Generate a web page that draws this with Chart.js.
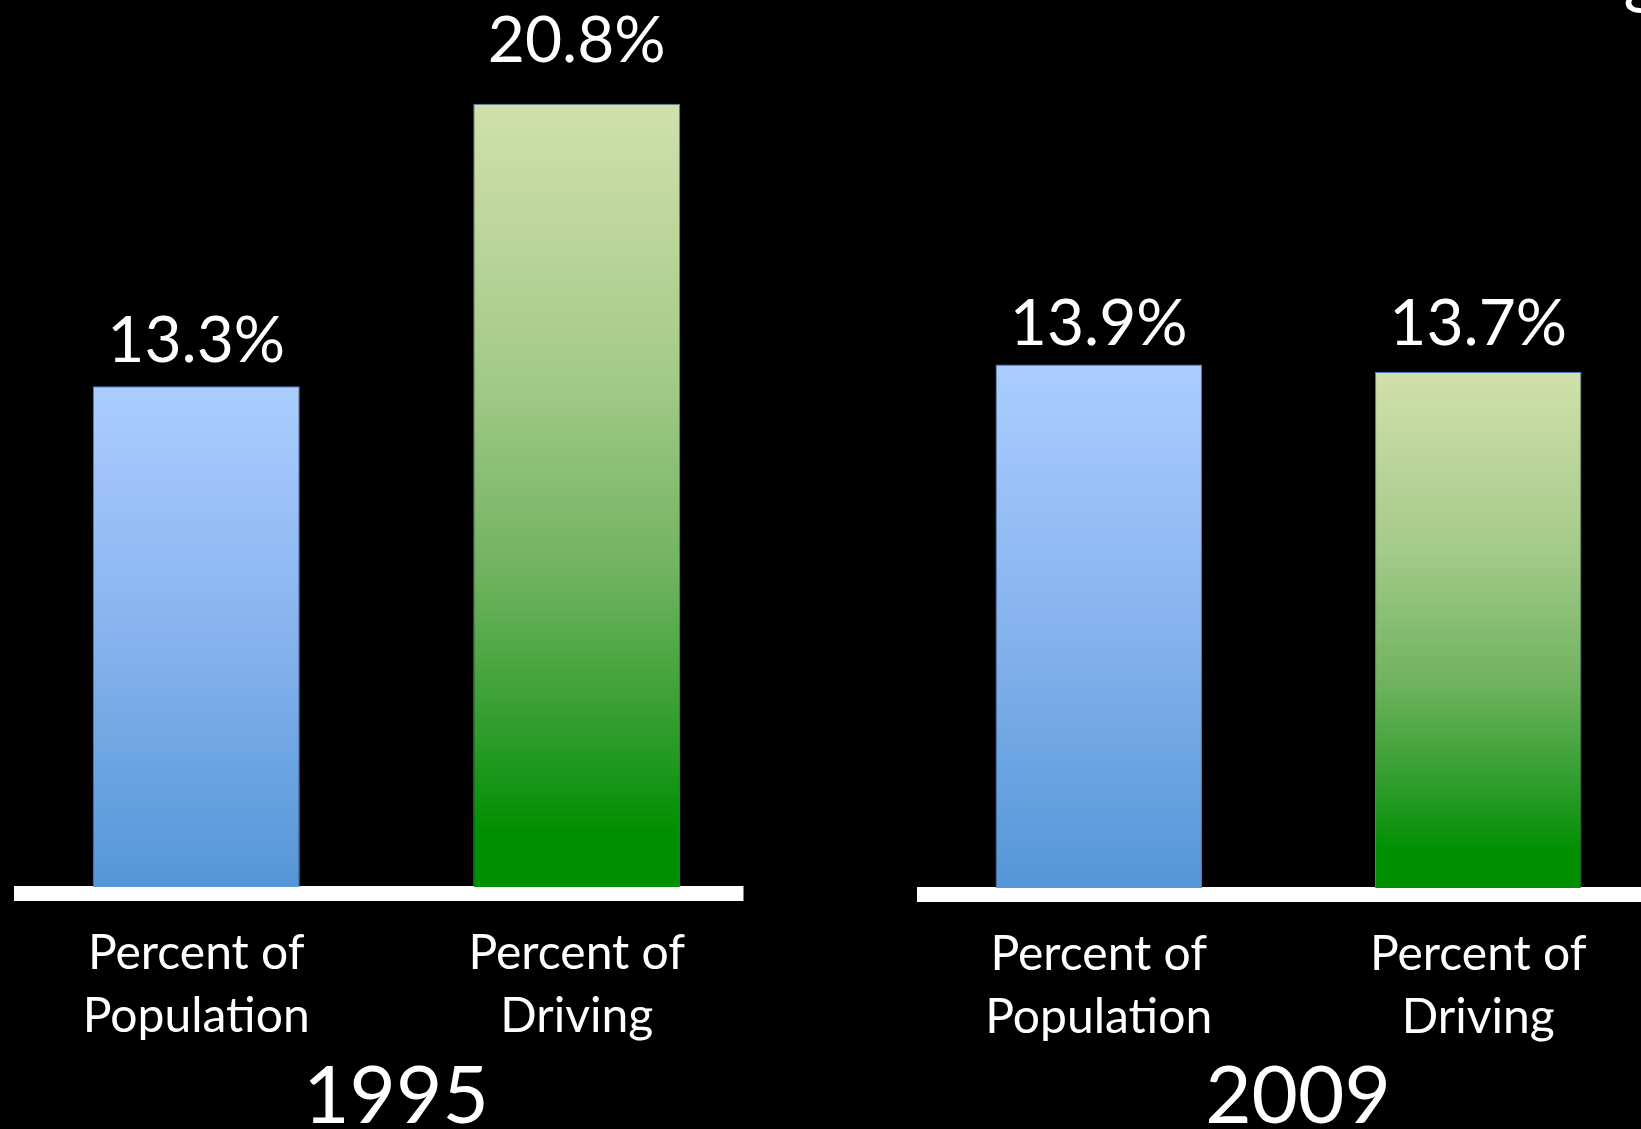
<!DOCTYPE html>
<html>
<head>
<meta charset="utf-8">
<script src="https://cdn.jsdelivr.net/npm/chart.js@4.4.1/dist/chart.umd.min.js"></script>
<style>
  html, body { margin: 0; padding: 0; background: #000; width: 1641px; height: 1129px; overflow: hidden; }
  body { position: relative; }
  canvas { position: absolute; top: 0; }
  #c1995 { left: 6px; }
  #c2009 { left: 909px; }
</style>
</head>
<body>
<canvas id="c1995" width="761" height="1129"></canvas>
<canvas id="c2009" width="759" height="1129"></canvas>
<script>
// Categories, years and values
const categories = [['Percent of', 'Population'], ['Percent of', 'Driving']];
const years = ['1995', '2009'];
const values1995 = [13.3, 20.8];
const values2009 = [13.9, 13.7];
const headline = 'Driving';

const FONT = 'Lato, "Open Sans", sans-serif';
const blueStops = [[0, '#abcdff'], [0.5, '#86b3ee'], [1, '#5496d8']];
const greenStops = [[0, '#d1e0ac'], [0.35, '#a3ca88'], [0.6, '#70b35f'], [0.8, '#2f9d2c'], [0.93, '#008f00'], [1, '#008f00']];

// Vertical gradient spanning each bar from its top to the zero line
function barFill(ctx, stops) {
  const chart = ctx.chart;
  if (!chart.chartArea || !chart.scales.y) return stops[stops.length - 1][1];
  const y = chart.scales.y;
  const top = y.getPixelForValue(ctx.raw);
  const bottom = y.getPixelForValue(0);
  const g = chart.ctx.createLinearGradient(0, top, 0, bottom);
  stops.forEach(([o, c]) => g.addColorStop(o, c));
  return g;
}

// Thick white baseline under the bars
const baselinePlugin = {
  id: 'baseline',
  beforeDatasetsDraw(chart, args, opts) {
    const a = chart.chartArea;
    const c = chart.ctx;
    const x0 = a.left + opts.insetLeft;
    const x1 = opts.toEdge ? chart.width : a.right - opts.insetRight;
    c.save();
    c.fillStyle = '#ffffff';
    c.fillRect(x0, a.bottom - 1, x1 - x0, 15);
    c.restore();
  }
};

// Percentage text above each bar
const valueLabelPlugin = {
  id: 'valueLabels',
  afterDatasetsDraw(chart, args, opts) {
    const c = chart.ctx;
    const meta = chart.getDatasetMeta(0);
    const data = chart.data.datasets[0].data;
    c.save();
    c.fillStyle = '#ffffff';
    c.font = '64px ' + FONT;
    c.textAlign = 'center';
    c.textBaseline = 'alphabetic';
    meta.data.forEach((bar, i) => {
      c.fillText(data[i].toFixed(1) + '%', bar.x, bar.y - opts.lift[i]);
    });
    c.restore();
  }
};

// Year caption under each group, plus the page heading on the right
const captionPlugin = {
  id: 'caption',
  afterDraw(chart, args, opts) {
    const a = chart.chartArea;
    const c = chart.ctx;
    c.save();
    c.fillStyle = '#ffffff';
    c.font = '80px ' + FONT;
    c.textAlign = 'center';
    c.textBaseline = 'alphabetic';
    c.fillText(opts.year, (a.left + a.right) / 2 + 9.5, 1123);
    if (opts.heading) {
      c.font = '72px ' + FONT;
      c.textAlign = 'right';
      c.fillText(opts.heading, 752, 0);
    }
    c.restore();
  }
};

function makeChart(id, values, year, bottomSpace, padTop, baselineOpts, lift, heading) {
  return new Chart(document.getElementById(id), {
    type: 'bar',
    data: {
      labels: categories,
      datasets: [{
        data: values,
        backgroundColor: (ctx) => barFill(ctx, ctx.dataIndex === 0 ? blueStops : greenStops),
        borderColor: '#4f81bd',
        borderWidth: 1,
        borderSkipped: 'bottom',
        categoryPercentage: 1,
        barPercentage: 0.544
      }]
    },
    options: {
      responsive: false,
      animation: false,
      layout: { padding: { top: padTop, left: 0, right: 0, bottom: 0 } },
      plugins: {
        legend: { display: false },
        tooltip: { enabled: false },
        baseline: baselineOpts,
        valueLabels: { lift: lift },
        caption: { year: year, heading: heading }
      },
      scales: {
        x: {
          grid: { display: false, drawTicks: false },
          border: { display: false },
          ticks: {
            color: '#ffffff',
            font: { family: FONT, size: 48, lineHeight: 1.31 },
            padding: 35,
            maxRotation: 0,
            autoSkip: false
          },
          afterFit(scale) { scale.height = bottomSpace; }
        },
        y: {
          display: false,
          min: 0,
          max: 23.5
        }
      }
    },
    plugins: [baselinePlugin, valueLabelPlugin, captionPlugin]
  });
}

makeChart('c1995', values1995, years[0], 242, 2, { insetLeft: 8, insetRight: 23.5, toEdge: false }, [24, 42], null);
makeChart('c2009', values2009, years[1], 241, 3, { insetLeft: 8, insetRight: 0, toEdge: true }, [20, 27], headline);
</script>
</body>
</html>
